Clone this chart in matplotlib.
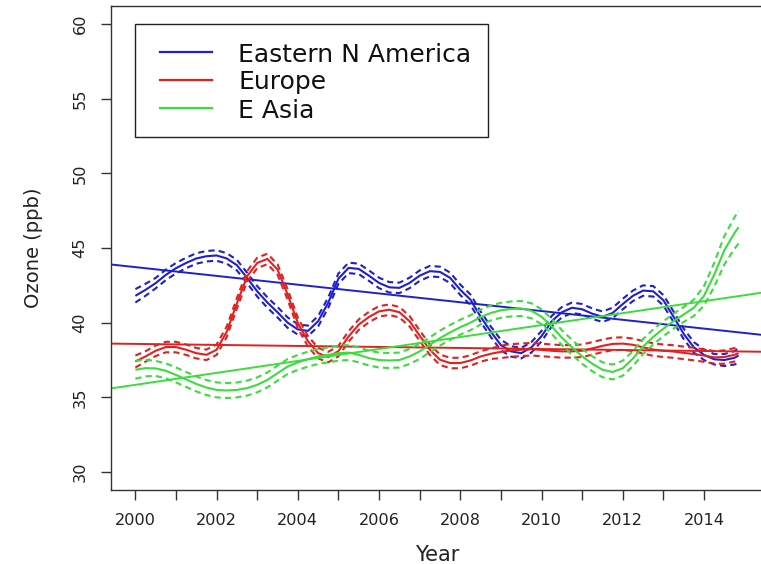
import numpy as np
import matplotlib
matplotlib.use("Agg")
import matplotlib.pyplot as plt
from matplotlib.patches import Rectangle

plt.rcParams['font.family'] = ['DejaVu Sans']

# Smoothed seasonal-trend fits, sampled every quarter year
years = np.append(np.arange(2000, 2014.8, 0.25), 2014.85)

ena = [41.8, 42.2, 42.65, 43.2, 43.65, 44.0, 44.3, 44.45, 44.5, 44.3,
       43.85, 43.0, 42.1, 41.35, 40.7, 40.0, 39.55, 39.45, 40.1, 41.35,
       42.95, 43.67, 43.6, 43.15, 42.66, 42.37, 42.33, 42.66, 43.15, 43.45,
       43.4, 43.0, 42.2, 41.54, 40.4, 39.4, 38.5, 38.08, 37.96, 38.35,
       39.1, 40.1, 40.7, 41.0, 40.9, 40.6, 40.4, 40.65, 41.25, 41.8,
       42.15, 42.1, 41.5, 40.4, 39.25, 38.35, 37.85, 37.55, 37.5, 37.65,
       37.8]
ena_se = [0.45, 0.4] + [0.35] * 56 + [0.4, 0.45, 0.5]

eur = [37.4, 37.74, 38.12, 38.37, 38.37, 38.19, 37.96, 37.85, 38.19, 39.4,
       41.3, 43.1, 44.0, 44.27, 43.56, 41.88, 39.98, 38.75, 37.96, 37.7,
       38.1, 39.08, 39.87, 40.38, 40.76, 40.87, 40.7, 40.1, 39.13, 38.19,
       37.52, 37.3, 37.3, 37.47, 37.74, 37.92, 38.05, 38.14, 38.19, 38.22,
       38.18, 38.12, 38.08, 38.08, 38.12, 38.28, 38.45, 38.58, 38.6, 38.52,
       38.35, 38.2, 38.12, 38.07, 37.98, 37.9, 37.8, 37.68, 37.7, 37.85,
       37.95]
eur_se = [0.4] + [0.35] * 35 + [0.42] * 22 + [0.45, 0.45, 0.5]

eas = [36.85, 36.96, 36.94, 36.78, 36.5, 36.2, 35.9, 35.66, 35.5, 35.46,
       35.5, 35.62, 35.84, 36.17, 36.62, 37.07, 37.34, 37.56, 37.74, 37.85,
       37.96, 38.0, 37.85, 37.63, 37.5, 37.47, 37.5, 37.74, 38.08, 38.52,
       38.97, 39.35, 39.7, 40.0, 40.38, 40.65, 40.83, 40.92, 40.95, 40.8,
       40.4, 39.75, 39.0, 38.35, 37.75, 37.25, 36.85, 36.7, 36.95, 37.6,
       38.4, 39.05, 39.6, 40.1, 40.55, 41.0, 41.8, 43.2, 44.85, 46.0,
       46.4]
eas_se = [0.6, 0.55] + [0.5] * 53 + [0.55, 0.65, 0.8, 0.95, 1.05, 1.1]

# Linear trend fits: fitted value at 2000 and 2015
trend_years = [2000, 2015]
ena_trend = [43.72, 39.31]
eur_trend = [38.58, 38.07]
eas_trend = [35.84, 41.84]

labels = ["Eastern N America", "Europe", "E Asia"]
colors = ["#1f1fcf", "#e2211f", "#3cdc3c"]

xticks = list(range(2000, 2015))
xticklabels = [str(y) if y % 2 == 0 else "" for y in xticks]
yticks = [30, 35, 40, 45, 50, 55, 60]

fig = plt.figure(figsize=(7.61, 5.64), dpi=100)
ax = fig.add_axes([111 / 761, 74 / 564, 658 / 761, 484 / 564])

series = [(ena, ena_se, ena_trend), (eur, eur_se, eur_trend), (eas, eas_se, eas_trend)]
for (vals, se, trend), col in zip(series, colors):
    v = np.asarray(vals)
    s = np.asarray(se)
    ax.plot(years, v, color=col, lw=1.5, solid_capstyle='butt')
    ax.plot(years, v + s, color=col, lw=1.5, linestyle=(0, (3, 2)))
    ax.plot(years, v - s, color=col, lw=1.5, linestyle=(0, (3, 2)))
    ax.axline((trend_years[0], trend[0]), (trend_years[1], trend[1]), color=col, lw=1.4)

ax.set_xlim(1999.4, 2015.6)
ax.set_ylim(28.8, 61.2)
ax.set_xticks(xticks)
ax.set_xticklabels(xticklabels)
ax.set_yticks(yticks)
ax.set_yticklabels([str(t) for t in yticks], rotation=90, va='center')

ax.tick_params(axis='both', direction='out', length=7, width=1.0, color='#333333',
               labelsize=11.6, labelcolor='#222222')
ax.tick_params(axis='x', pad=9.4)
ax.tick_params(axis='y', pad=10)

for side in ['left', 'bottom', 'top', 'right']:
    ax.spines[side].set_color('#333333')
    ax.spines[side].set_linewidth(1.0)

ax.set_xlabel("Year", fontsize=15, color='#222222')
ax.xaxis.set_label_coords(0.4955, -0.113)
ax.set_ylabel("Ozone (ppb)", fontsize=14, color='#222222')
ax.yaxis.set_label_coords(-0.103, 0.5006)

# Legend box drawn in axes coordinates
def ax_x(px):
    return (px - 111) / 658

def ax_y(py):
    return (490 - py) / 484

ax.add_patch(Rectangle((ax_x(135), ax_y(137)), ax_x(488) - ax_x(135), ax_y(24) - ax_y(137),
                       transform=ax.transAxes, facecolor='white', edgecolor='#222222',
                       lw=1.0, zorder=5))
row_y = [52.3, 80.3, 108.3]
for lab, col, ry in zip(labels, colors, row_y):
    ax.plot([ax_x(160), ax_x(212)], [ax_y(ry), ax_y(ry)], transform=ax.transAxes,
            color=col, lw=1.6, zorder=6, clip_on=False)
    ax.text(ax_x(238), ax_y(ry + 9.2), lab, transform=ax.transAxes, fontsize=18,
            color='#111111', ha='left', va='baseline', zorder=6)

fig.savefig("out.png", dpi=100)
